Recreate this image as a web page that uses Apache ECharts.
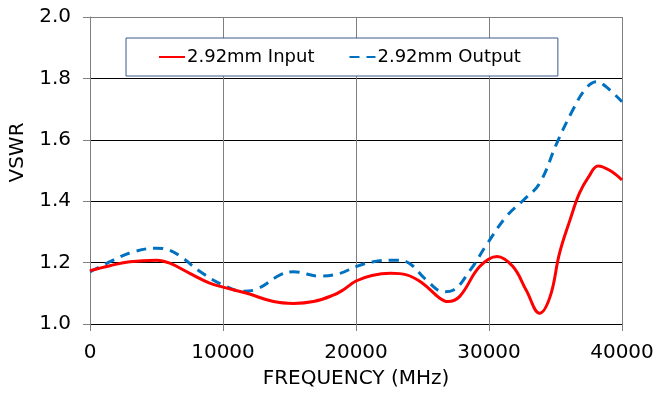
<!DOCTYPE html>
<html>
<head>
<meta charset="utf-8">
<script src="https://cdn.jsdelivr.net/npm/echarts@6/dist/echarts.min.js"></script>
<style>html,body{margin:0;padding:0;background:#fff}#c{width:671px;height:394px}</style>
</head>
<body>
<div id="c"></div>
<script>
var inputFreq = [0, 1500, 3000, 5000, 6000, 7500, 9000, 10000, 11800, 13800, 15300, 16800, 18300, 19000, 20000, 21200, 22600, 23800, 25000, 26300, 26900, 27800, 29300, 30600, 31800, 32800, 33800, 34600, 35300, 36100, 36800, 37500, 38200, 39100, 40000];
var inputVswr = [1.174, 1.19, 1.203, 1.208, 1.198, 1.165, 1.133, 1.12, 1.10, 1.073, 1.067, 1.073, 1.094, 1.11, 1.14, 1.158, 1.165, 1.16, 1.133, 1.084, 1.073, 1.09, 1.187, 1.22, 1.187, 1.11, 1.035, 1.09, 1.23, 1.34, 1.426, 1.48, 1.515, 1.50, 1.469];
var outputFreq = [0, 1750, 3260, 5000, 6000, 7000, 8300, 10000, 11500, 12500, 14300, 15300, 17300, 18800, 20000, 21300, 23000, 24000, 25300, 26600, 27300, 28600, 29800, 31300, 32600, 33800, 35100, 36300, 37300, 38100, 38800, 40000];
var outputVswr = [1.17, 1.208, 1.235, 1.247, 1.24, 1.214, 1.17, 1.127, 1.107, 1.113, 1.16, 1.17, 1.156, 1.165, 1.187, 1.203, 1.208, 1.198, 1.143, 1.105, 1.11, 1.176, 1.257, 1.35, 1.404, 1.458, 1.589, 1.697, 1.768, 1.789, 1.773, 1.724];
var seriesNames = ['2.92mm Input', '2.92mm Output'];
var xTitle = 'FREQUENCY (MHz)';
var yTitle = 'VSWR';

function pairs(xs, ys) { return xs.map(function (x, i) { return [x, ys[i]]; }); }

var FONT = 'DejaVu Sans';
var chart = echarts.init(document.getElementById('c'), null, {renderer: 'canvas'});
chart.setOption({
  animation: false,
  backgroundColor: '#fff',
  grid: {left: 90, right: 49, top: 17, bottom: 70, containLabel: false},
  legend: {
    left: 126, top: 38,
    padding: [10, 37, 10, 32],
    itemGap: 34,
    itemWidth: 26, itemHeight: 14,
    borderColor: '#3A5A8C', borderWidth: 1,
    backgroundColor: '#fff',
    itemStyle: {opacity: 0},
    textStyle: {fontFamily: FONT, fontSize: 18, color: '#000', padding: [0,0,0,-3]},
    data: seriesNames
  },
  xAxis: {
    type: 'value', min: 0, max: 40000, interval: 10000,
    name: xTitle, nameLocation: 'middle', nameGap: 45,
    nameTextStyle: {fontFamily: FONT, fontSize: 20, color: '#000'},
    axisLine: {show: true, lineStyle: {color: '#000', width: 1}},
    axisTick: {show: true, length: 7, lineStyle: {color: '#808080'}},
    axisLabel: {fontFamily: FONT, fontSize: 20, color: '#000', margin: 19,
      formatter: function (v) { return String(v); }},
    splitLine: {show: true, lineStyle: {color: '#7f7f7f', width: 1}}
  },
  yAxis: {
    type: 'value', min: 1.0, max: 2.0, interval: 0.2,
    name: yTitle, nameLocation: 'middle', nameGap: 58,
    nameTextStyle: {fontFamily: FONT, fontSize: 20, color: '#000', padding: [0, 0, 0, 36]},
    axisLine: {show: true, lineStyle: {color: '#7f7f7f', width: 1}},
    axisTick: {show: true, length: 7, lineStyle: {color: '#808080'}},
    axisLabel: {fontFamily: FONT, fontSize: 20, color: '#000', margin: 19,
      formatter: function (v) { return v.toFixed(1); }},
    splitLine: {show: true, lineStyle: {color: ['#000', '#000', '#000', '#000', '#000', '#7f7f7f'], width: 1}}
  },
  series: [
    {
      name: seriesNames[0], type: 'line', smooth: 0.4, symbol: 'none',
      data: pairs(inputFreq, inputVswr),
      lineStyle: {color: '#FF0000', width: 3},
      itemStyle: {color: '#FF0000'}, z: 3
    },
    {
      name: seriesNames[1], type: 'line', smooth: 0.4, symbol: 'none',
      data: pairs(outputFreq, outputVswr),
      lineStyle: {color: '#0070C0', width: 3, type: [10, 7]},
      itemStyle: {color: '#0070C0'}, z: 2
    }
  ]
});
</script>
</body>
</html>
